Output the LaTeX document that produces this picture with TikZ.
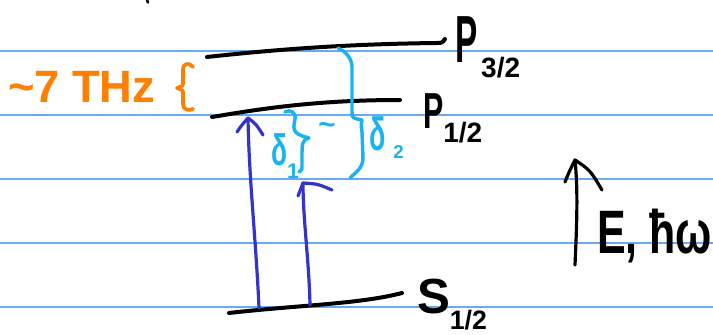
\documentclass[tikz,border=0pt]{standalone}
\usepackage{fontspec}
\setmainfont{Liberation Sans}
\definecolor{paper}{RGB}{106,170,240}
\definecolor{hworange}{RGB}{255,128,0}
\definecolor{hwcyan}{RGB}{25,180,240}
\definecolor{hwblue}{RGB}{52,52,200}
\begin{document}
\begin{tikzpicture}[x=0.75pt,y=-0.75pt, line cap=round, line join=round,
  ruled/.style={draw=paper, line width=1.1pt},
  level/.style={draw=black, line width=3pt},
  pen/.style={draw=black, line width=2.4pt},
  excite/.style={draw=hwblue, line width=2.4pt},
  gap/.style={draw=hwcyan, line width=2.6pt},
  orangepen/.style={draw=hworange, line width=2.8pt},
  lbl/.style={inner sep=0pt, outer sep=0pt, anchor=base west, font=\bfseries},
]
\fill[white] (0,0) rectangle (713,335);
\useasboundingbox (0,0) rectangle (713,335);

% ruled paper
\foreach \yy in {51,115,179,243,307} \draw[ruled] (0,\yy) -- (713,\yy);

% stray mark at top
\draw[pen, line width=2pt] (147,0) -- (148,2.5);

% energy levels
\draw[level] (207,57) .. controls (280,49) and (350,44) .. (437,43) .. controls (442,43) .. (445,39);
\draw[level] (212,117) .. controls (265,108) and (320,100) .. (400,100);
\draw[level] (229,313) .. controls (300,305) and (360,304) .. (402,293);

% level labels
\node[lbl] (p32) at (455,63) {\scalebox{0.5}[1]{\fontsize{50}{50}\selectfont P}\hspace{3pt}\raisebox{-11pt}{\fontsize{21}{21}\selectfont 3/2}};
\node[lbl] (p12) at (423,128) {\scalebox{0.6}[1]{\fontsize{38}{38}\selectfont P}\raisebox{-10.5pt}{\fontsize{21}{21}\selectfont 1/2}};
\node[lbl] (s12) at (417,313) {\fontsize{37}{37}\selectfont S\raisebox{-12pt}{\fontsize{20}{20}\selectfont 1/2}};

% fine structure splitting
\node[lbl, text=hworange] (thz) at (8,102) {\fontsize{34}{34}\selectfont\textasciitilde7 THz};
\draw[orangepen] (193,67) .. controls (189,62) and (183,63) .. (183,70) -- (183,82) .. controls (183,86) .. (177,88) .. controls (183,90) .. (183,95) -- (183,104) .. controls (183,110) and (189,111) .. (193,109);

% excitation arrows
\coordinate (a1) at (259,308);
\coordinate (a1t) at (248,118);
\draw[excite] (a1) .. controls (256,240) and (249,180) .. (a1t);
\draw[excite] (237,132) .. controls (241,126) .. (a1t) .. controls (256,124) .. (263,135);
\coordinate (a2) at (310,305);
\coordinate (a2t) at (303,183);
\draw[excite] (a2) .. controls (309,260) and (303,220) .. (a2t);
\draw[excite] (298,196) .. controls (300,189) .. (a2t) .. controls (318,184) .. (332,190);

% detunings
\draw[gap] (285,112) .. controls (290,109) and (296,112) .. (295,119) .. controls (294,125) and (292,130) .. (298,134) .. controls (302,136) .. (309,138) .. controls (302,140) and (302,145) .. (302,152) -- (302,165) .. controls (302,170) .. (299,172);
\node[lbl, text=hwcyan] (d1) at (271,165) {\scalebox{0.6}[1]{\fontsize{33}{33}\selectfont δ}\raisebox{-10pt}{\fontsize{16}{16}\selectfont 1}};
\node[inner sep=0pt, text=hwcyan, font=\bfseries] (tl) at (327,128) {\fontsize{22}{22}\selectfont\textasciitilde};

\draw[gap] (338,48) .. controls (345,51) and (351,57) .. (352,66) -- (352,112) .. controls (352,118) .. (362,120) .. controls (361,124) .. (362,132) -- (363,158) .. controls (363,168) and (356,172) .. (350,178);
\node[lbl, text=hwcyan] (d2) at (369,150) {\scalebox{0.58}[1]{\fontsize{35}{35}\selectfont δ}\hspace{6pt}\raisebox{-6pt}{\fontsize{14}{14}\selectfont 2}};

% energy axis
\coordinate (e0) at (575,265);
\coordinate (e1) at (575,160);
\draw[pen] (e0) .. controls (577,220) and (578,190) .. (e1);
\draw[pen] (565,182) .. controls (569,172) .. (e1) .. controls (590,170) .. (602,190);
\node[lbl] (eh) at (597,253) {\scalebox{0.7}[1]{\fontsize{46}{46}\selectfont E, ħω}};
\end{tikzpicture}
\end{document}
